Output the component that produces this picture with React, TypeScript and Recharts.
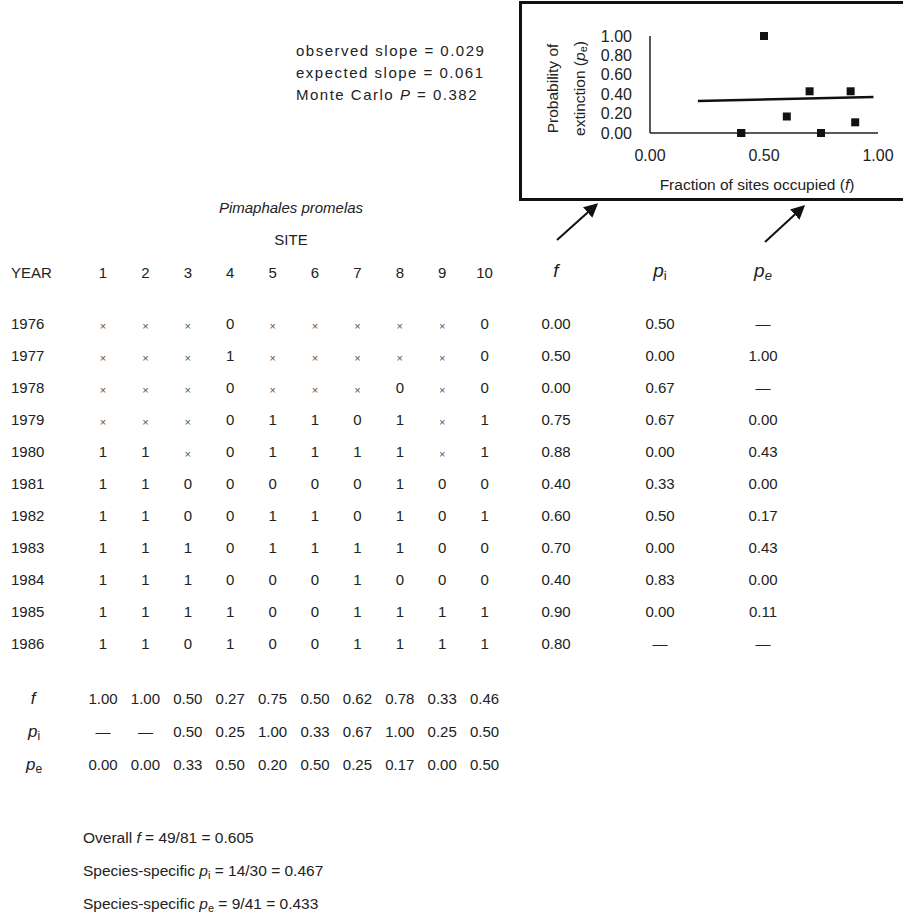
import { ScatterChart, Scatter, XAxis, YAxis, ZAxis } from 'recharts';

const years = [1976, 1977, 1978, 1979, 1980, 1981, 1982, 1983, 1984, 1985, 1986];
const sites = ['1', '2', '3', '4', '5', '6', '7', '8', '9', '10'];

// 'x' = site not sampled that year
const occupancy = [
  ['x', 'x', 'x', '0', 'x', 'x', 'x', 'x', 'x', '0'],
  ['x', 'x', 'x', '1', 'x', 'x', 'x', 'x', 'x', '0'],
  ['x', 'x', 'x', '0', 'x', 'x', 'x', '0', 'x', '0'],
  ['x', 'x', 'x', '0', '1', '1', '0', '1', 'x', '1'],
  ['1', '1', 'x', '0', '1', '1', '1', '1', 'x', '1'],
  ['1', '1', '0', '0', '0', '0', '0', '1', '0', '0'],
  ['1', '1', '0', '0', '1', '1', '0', '1', '0', '1'],
  ['1', '1', '1', '0', '1', '1', '1', '1', '0', '0'],
  ['1', '1', '1', '0', '0', '0', '1', '0', '0', '0'],
  ['1', '1', '1', '1', '0', '0', '1', '1', '1', '1'],
  ['1', '1', '0', '1', '0', '0', '1', '1', '1', '1'],
];

const yearF = [0.0, 0.5, 0.0, 0.75, 0.88, 0.4, 0.6, 0.7, 0.4, 0.9, 0.8];
const yearPi = [0.5, 0.0, 0.67, 0.67, 0.0, 0.33, 0.5, 0.0, 0.83, 0.0, null];
const yearPe = [null, 1.0, null, 0.0, 0.43, 0.0, 0.17, 0.43, 0.0, 0.11, null];

const siteF = [1.0, 1.0, 0.5, 0.27, 0.75, 0.5, 0.62, 0.78, 0.33, 0.46];
const sitePi = [null, null, 0.5, 0.25, 1.0, 0.33, 0.67, 1.0, 0.25, 0.5];
const sitePe = [0.0, 0.0, 0.33, 0.5, 0.2, 0.5, 0.25, 0.17, 0.0, 0.5];

// fitted line
const fitLine = [
  { f: 0.21, pe: 0.33 },
  { f: 0.98, pe: 0.37 },
];

const xTicks = [0, 0.5, 1];
const yTicks = [0, 0.2, 0.4, 0.6, 0.8, 1];

const points = years
  .map((y, i) => ({ year: y, f: yearF[i], pe: yearPe[i] }))
  .filter((d) => d.pe !== null);

const FONT = '"Liberation Sans", Arial, Helvetica, sans-serif';
const colX = sites.map((_, i) => 103 + i * 42.4);
const fX = 556;
const piX = 660;
const peX = 763;
const rowY = (i: number) => 323 + i * 32;
const fmt = (v: number | null) => (v === null ? '\u2014' : v.toFixed(2));

function Inset() {
  return (
    <div
      style={{
        position: 'absolute',
        left: 519,
        top: 1,
        width: 381,
        height: 194,
        border: '3px solid #111',
        background: '#fff',
      }}
    >
      <div style={{ position: 'absolute', left: -3, top: -1 }}>
        <ScatterChart
          width={384}
          height={200}
          margin={{ top: 33, right: 25, bottom: 40, left: 71 }}
          style={{ fontFamily: FONT }}
        >
          <XAxis
            type="number"
            dataKey="f"
            domain={[0, 1]}
            ticks={xTicks}
            interval={0}
            tickFormatter={(v: number) => v.toFixed(2)}
            tickLine={false}
            tickMargin={11}
            height={30}
            axisLine={{ stroke: '#222', strokeWidth: 1.5 }}
            tick={{ fill: '#222', fontSize: 16 }}
            label={{
              content: (p: any) => {
                const vb = p.viewBox;
                return (
                  <text
                    x={vb.x + vb.width / 2 - 7}
                    y={vb.y + 51}
                    textAnchor="middle"
                    dominantBaseline="central"
                    fontSize={15.5}
                    fill="#222"
                  >
                    Fraction of sites occupied (<tspan fontStyle="italic">f</tspan>)
                  </text>
                );
              },
            }}
          />
          <YAxis
            type="number"
            dataKey="pe"
            domain={[0, 1]}
            ticks={yTicks}
            interval={0}
            tickFormatter={(v: number) => v.toFixed(2)}
            tickLine={false}
            tickMargin={12}
            width={60}
            axisLine={{ stroke: '#222', strokeWidth: 1.5 }}
            tick={{ fill: '#222', fontSize: 16 }}
            label={{
              content: (p: any) => {
                const vb = p.viewBox;
                const cy = vb.y + vb.height / 2 + 4;
                const x1 = vb.x - 38;
                const x2 = vb.x - 11;
                return (
                  <g fill="#222" fontSize={15.5}>
                    <text
                      x={x1}
                      y={cy}
                      textAnchor="middle"
                      dominantBaseline="central"
                      transform={`rotate(-90 ${x1} ${cy})`}
                    >
                      Probability of
                    </text>
                    <text
                      x={x2}
                      y={cy}
                      textAnchor="middle"
                      dominantBaseline="central"
                      transform={`rotate(-90 ${x2} ${cy})`}
                    >
                      extinction (<tspan fontStyle="italic">p</tspan>
                      <tspan fontSize={11} dy={4}>e</tspan>
                      <tspan dy={-4}>)</tspan>
                    </text>
                  </g>
                );
              },
            }}
          />
          <ZAxis range={[72, 72]} />
          <Scatter
            data={fitLine}
            line={{ stroke: '#111', strokeWidth: 2.5 }}
            shape={() => <g />}
            isAnimationActive={false}
          />
          <Scatter data={points} fill="#111" shape="square" isAnimationActive={false} />
        </ScatterChart>
      </div>
    </div>
  );
}

export default function App() {
  return (
    <div
      style={{
        position: 'absolute',
        left: 0,
        top: 0,
        width: 903,
        height: 915,
        background: '#fff',
        fontFamily: FONT,
      }}
    >
      <svg width={903} height={915} style={{ position: 'absolute', left: 0, top: 0 }}>
        <defs>
          <marker id="ah" viewBox="0 0 10 10" refX="8" refY="5" markerWidth="7" markerHeight="7" orient="auto">
            <path d="M0,0 L10,5 L0,10 z" fill="#111" />
          </marker>
        </defs>
        <g fill="#222" fontSize={15} letterSpacing={1.5} dominantBaseline="central">
          <text x={296} y={50}>observed slope = 0.029</text>
          <text x={296} y={72}>expected slope = 0.061</text>
          <text x={296} y={94}>
            Monte Carlo <tspan fontStyle="italic">P</tspan> = 0.382
          </text>
        </g>

        <line x1={557} y1={240} x2={596} y2={205} stroke="#111" strokeWidth={2} markerEnd="url(#ah)" />
        <line x1={765} y1={242} x2={803} y2={207} stroke="#111" strokeWidth={2} markerEnd="url(#ah)" />

        <g fill="#222" fontSize={15} dominantBaseline="central">
          <text x={291} y={207} textAnchor="middle" fontStyle="italic">
            Pimaphales promelas
          </text>
          <text x={291} y={239} textAnchor="middle">
            SITE
          </text>
          <text x={11} y={272}>YEAR</text>
          {sites.map((s, i) => (
            <text key={s} x={colX[i]} y={272} textAnchor="middle">
              {s}
            </text>
          ))}
          <text x={fX} y={270} textAnchor="middle" fontStyle="italic" fontSize={19}>
            f
          </text>
          <text x={piX} y={270} textAnchor="middle" fontSize={19}>
            <tspan fontStyle="italic">p</tspan>
            <tspan fontSize={13} dy={5}>i</tspan>
          </text>
          <text x={peX} y={270} textAnchor="middle" fontSize={19} fontStyle="italic">
            <tspan>p</tspan>
            <tspan fontSize={13} dy={5}>e</tspan>
          </text>

          {years.map((yr, r) => (
            <g key={yr}>
              <text x={11} y={rowY(r)}>
                {yr}
              </text>
              {occupancy[r].map((v, c) =>
                v === 'x' ? (
                  <text key={c} x={colX[c]} y={rowY(r) + 3} textAnchor="middle" fontSize={11} fill="#555">
                    {'\u00d7'}
                  </text>
                ) : (
                  <text key={c} x={colX[c]} y={rowY(r)} textAnchor="middle">
                    {v}
                  </text>
                )
              )}
              <text x={fX} y={rowY(r)} textAnchor="middle">
                {fmt(yearF[r])}
              </text>
              <text x={piX} y={rowY(r)} textAnchor="middle">
                {fmt(yearPi[r])}
              </text>
              <text x={peX} y={rowY(r)} textAnchor="middle">
                {fmt(yearPe[r])}
              </text>
            </g>
          ))}

          <text x={33} y={698} textAnchor="middle" fontStyle="italic" fontSize={17}>
            f
          </text>
          <text x={34} y={731} textAnchor="middle" fontSize={17}>
            <tspan fontStyle="italic">p</tspan>
            <tspan fontSize={12} dy={5}>i</tspan>
          </text>
          <text x={34} y={764} textAnchor="middle" fontSize={17}>
            <tspan fontStyle="italic">p</tspan>
            <tspan fontSize={12} dy={5}>e</tspan>
          </text>
          {siteF.map((v, i) => (
            <text key={'f' + i} x={colX[i]} y={698} textAnchor="middle">
              {fmt(v)}
            </text>
          ))}
          {sitePi.map((v, i) => (
            <text key={'pi' + i} x={colX[i]} y={731} textAnchor="middle">
              {fmt(v)}
            </text>
          ))}
          {sitePe.map((v, i) => (
            <text key={'pe' + i} x={colX[i]} y={764} textAnchor="middle">
              {fmt(v)}
            </text>
          ))}

          <text x={83} y={837} fontSize={15.5}>
            Overall <tspan fontStyle="italic">f</tspan> = 49/81 = 0.605
          </text>
          <text x={83} y={870} fontSize={15.5}>
            Species-specific <tspan fontStyle="italic">p</tspan>
            <tspan fontSize={11} dy={5}>i</tspan>
            <tspan dy={-5}> = 14/30 = 0.467</tspan>
          </text>
          <text x={83} y={903} fontSize={15.5}>
            Species-specific <tspan fontStyle="italic">p</tspan>
            <tspan fontSize={11} dy={5}>e</tspan>
            <tspan dy={-5}> = 9/41 = 0.433</tspan>
          </text>
        </g>
      </svg>
      <Inset />
    </div>
  );
}
